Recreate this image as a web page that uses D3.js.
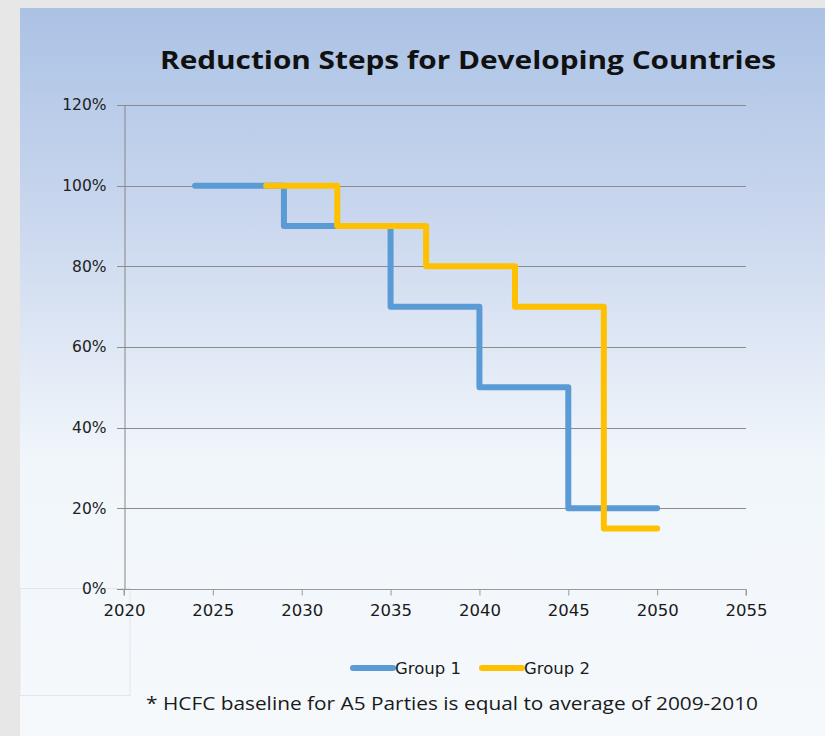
<!DOCTYPE html>
<html>
<head>
<meta charset="utf-8">
<script src="https://cdn.jsdelivr.net/npm/d3@7"></script>
<style>
  html, body { margin: 0; padding: 0; background: #e6e6e6; }
  svg { display: block; }
</style>
</head>
<body>
<svg id="chart" width="825" height="736"></svg>
<script>
// ---- data ----
const title = "Reduction Steps for Developing Countries";
const footnote = "* HCFC baseline for A5 Parties is equal to average of 2009-2010";
const seriesNames = ["Group 1", "Group 2"];
const seriesColors = ["#5b9bd5", "#ffc000"];
const group1Years = [2024, 2029, 2035, 2040, 2045, 2050];
const group1Values = [1.00, 0.90, 0.70, 0.50, 0.20, 0.20];
const group2Years = [2028, 2032, 2037, 2042, 2047, 2050];
const group2Values = [1.00, 0.90, 0.80, 0.70, 0.15, 0.15];
const xTicks = [2020, 2025, 2030, 2035, 2040, 2045, 2050, 2055];
const yTicks = [0, 0.2, 0.4, 0.6, 0.8, 1.0, 1.2];

const svg = d3.select("#chart");
const W = 825, H = 736;
const FONT = "'Open Sans', sans-serif";
const TICKFONT = "'DejaVu Sans', sans-serif";

// background
const defs = svg.append("defs");
const grad = defs.append("linearGradient").attr("id", "bg").attr("x1", 0).attr("y1", 0).attr("x2", 0).attr("y2", 1);
grad.append("stop").attr("offset", "0%").attr("stop-color", "#abc2e5");
grad.append("stop").attr("offset", "30%").attr("stop-color", "#cbd8ee");
grad.append("stop").attr("offset", "62%").attr("stop-color", "#f1f6fb");
grad.append("stop").attr("offset", "100%").attr("stop-color", "#f5f9fc");
svg.append("rect").attr("x", 0).attr("y", 0).attr("width", W).attr("height", H).attr("fill", "#e7e7e7");
svg.append("rect").attr("x", 20).attr("y", 8).attr("width", W - 20).attr("height", H - 8).attr("fill", "url(#bg)");
// faint leftover box
svg.append("rect").attr("x", 20).attr("y", 588.5).attr("width", 110).attr("height", 107)
  .attr("fill", "none").attr("stroke", "#e2e6ea").attr("stroke-width", 1);

const x = d3.scaleLinear().domain([2020, 2055]).range([124, 746]);
const y = d3.scaleLinear().domain([0, 1.2]).range([589, 105]);

// gridlines
svg.append("g").selectAll("line").data(yTicks).join("line")
  .attr("x1", 117).attr("x2", 746)
  .attr("y1", d => Math.round(y(d)) + 0.5).attr("y2", d => Math.round(y(d)) + 0.5)
  .attr("stroke", "#8c8c8c").attr("stroke-width", 1);

// y axis
const yAxis = svg.append("g").attr("transform", "translate(124.5,0)")
  .call(d3.axisLeft(y).tickValues(yTicks).tickFormat(d3.format(".0%")).tickSize(0).tickPadding(18));
yAxis.attr("font-size", null).attr("font-family", null);
yAxis.select(".domain").attr("stroke", "#868686");
yAxis.selectAll("text").style("font-family", TICKFONT).style("font-size", "15.5px").attr("fill", "#222");

// x axis
const xAxis = svg.append("g").attr("transform", "translate(0,589.5)")
  .call(d3.axisBottom(x).tickValues(xTicks).tickFormat(d3.format("d")).tickSize(6).tickPadding(9));
xAxis.attr("font-size", null).attr("font-family", null);
xAxis.select(".domain").attr("stroke", "#999").attr("d", "M124,6V0H746V6");
xAxis.selectAll(".tick line").attr("stroke", "#999");
xAxis.selectAll("text").style("font-family", TICKFONT).style("font-size", "16.5px").attr("fill", "#1a1a1a");

// step lines
const line = d3.line().x(d => x(d[0])).y(d => y(d[1])).curve(d3.curveStepAfter);
const series = [
  group1Years.map((yr, i) => [yr, group1Values[i]]),
  group2Years.map((yr, i) => [yr, group2Values[i]])
];
svg.append("g").selectAll("path").data(series).join("path")
  .attr("d", line)
  .attr("fill", "none")
  .attr("stroke", (d, i) => seriesColors[i])
  .attr("stroke-width", 6)
  .attr("stroke-linejoin", "round")
  .attr("stroke-linecap", "round");

// title
svg.append("text").attr("x", 160).attr("y", 69)
  .style("font-family", FONT).style("font-weight", "bold").style("font-size", "25px")
  .attr("fill", "#111").attr("textLength", 616).attr("lengthAdjust", "spacingAndGlyphs")
  .text(title);

// legend
const legendX = [353, 482];
const legend = svg.append("g").selectAll("g").data(seriesNames).join("g")
  .attr("transform", (d, i) => `translate(${legendX[i]},668)`);
legend.append("line").attr("x1", 0).attr("x2", 40).attr("y1", 0).attr("y2", 0)
  .attr("stroke", (d, i) => seriesColors[i]).attr("stroke-width", 6).attr("stroke-linecap", "round");
legend.append("text").attr("x", 42).attr("y", 6)
  .style("font-family", TICKFONT).style("font-size", "16px").attr("fill", "#1a1a1a")
  .attr("textLength", 66).attr("lengthAdjust", "spacingAndGlyphs")
  .text(d => d);

// footnote
svg.append("text").attr("x", 146).attr("y", 710)
  .style("font-family", FONT).style("font-size", "18px").attr("fill", "#1a1a1a")
  .attr("textLength", 612).attr("lengthAdjust", "spacingAndGlyphs")
  .text(footnote);
</script>
</body>
</html>
